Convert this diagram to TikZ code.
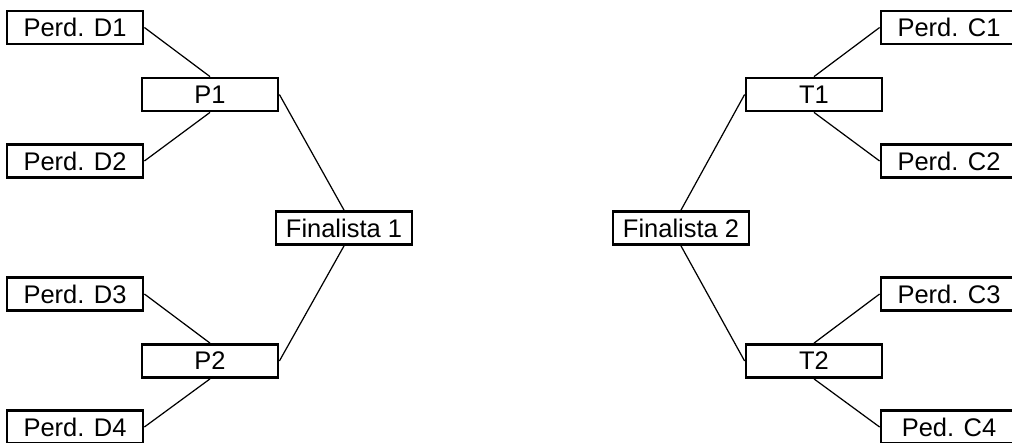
\documentclass[tikz,border=0pt]{standalone}
\usepackage{fontspec}
\setmainfont{Liberation Sans}
\begin{document}
\begin{tikzpicture}[x=0.02cm,y=-0.02cm,font=\fontsize{14.5}{17}\selectfont,
caixa/.style={draw,line width=1.6pt,minimum width=2.72cm,minimum height=0.66cm,inner sep=0pt},
liga/.style={line width=0.7pt}]
\useasboundingbox(0,0)rectangle(1012,443);
\node[caixa](d1)at(75,27.5){Perd. D1};
\node[caixa](d2)at(75,161){Perd. D2};
\node[caixa](d3)at(75,294){Perd. D3};
\node[caixa](d4)at(75,427){Perd. D4};
\node[caixa](p1)at(210,94.5){P1};
\node[caixa](p2)at(210,361){P2};
\node[caixa](f1)at(344,228){Finalista 1};
\node[caixa](f2)at(681,228){Finalista 2};
\node[caixa](t1)at(814,94.5){T1};
\node[caixa](t2)at(814,361){T2};
\node[caixa](c1)at(949,27.5){Perd. C1};
\node[caixa](c2)at(949,161){Perd. C2};
\node[caixa](c3)at(949,294){Perd. C3};
\node[caixa](c4)at(949,427){Ped. C4};
\foreach \a/\b/\p in {1/2/1,3/4/2}{
\draw[liga](d\a.east)--(p\p.north);
\draw[liga](d\b.east)--(p\p.south);
\draw[liga](c\a.west)--(t\p.north);
\draw[liga](c\b.west)--(t\p.south);}
\draw[liga](p1.east)--(f1.north);
\draw[liga](p2.east)--(f1.south);
\draw[liga](t1.west)--(f2.north);
\draw[liga](t2.west)--(f2.south);
\end{tikzpicture}
\end{document}
